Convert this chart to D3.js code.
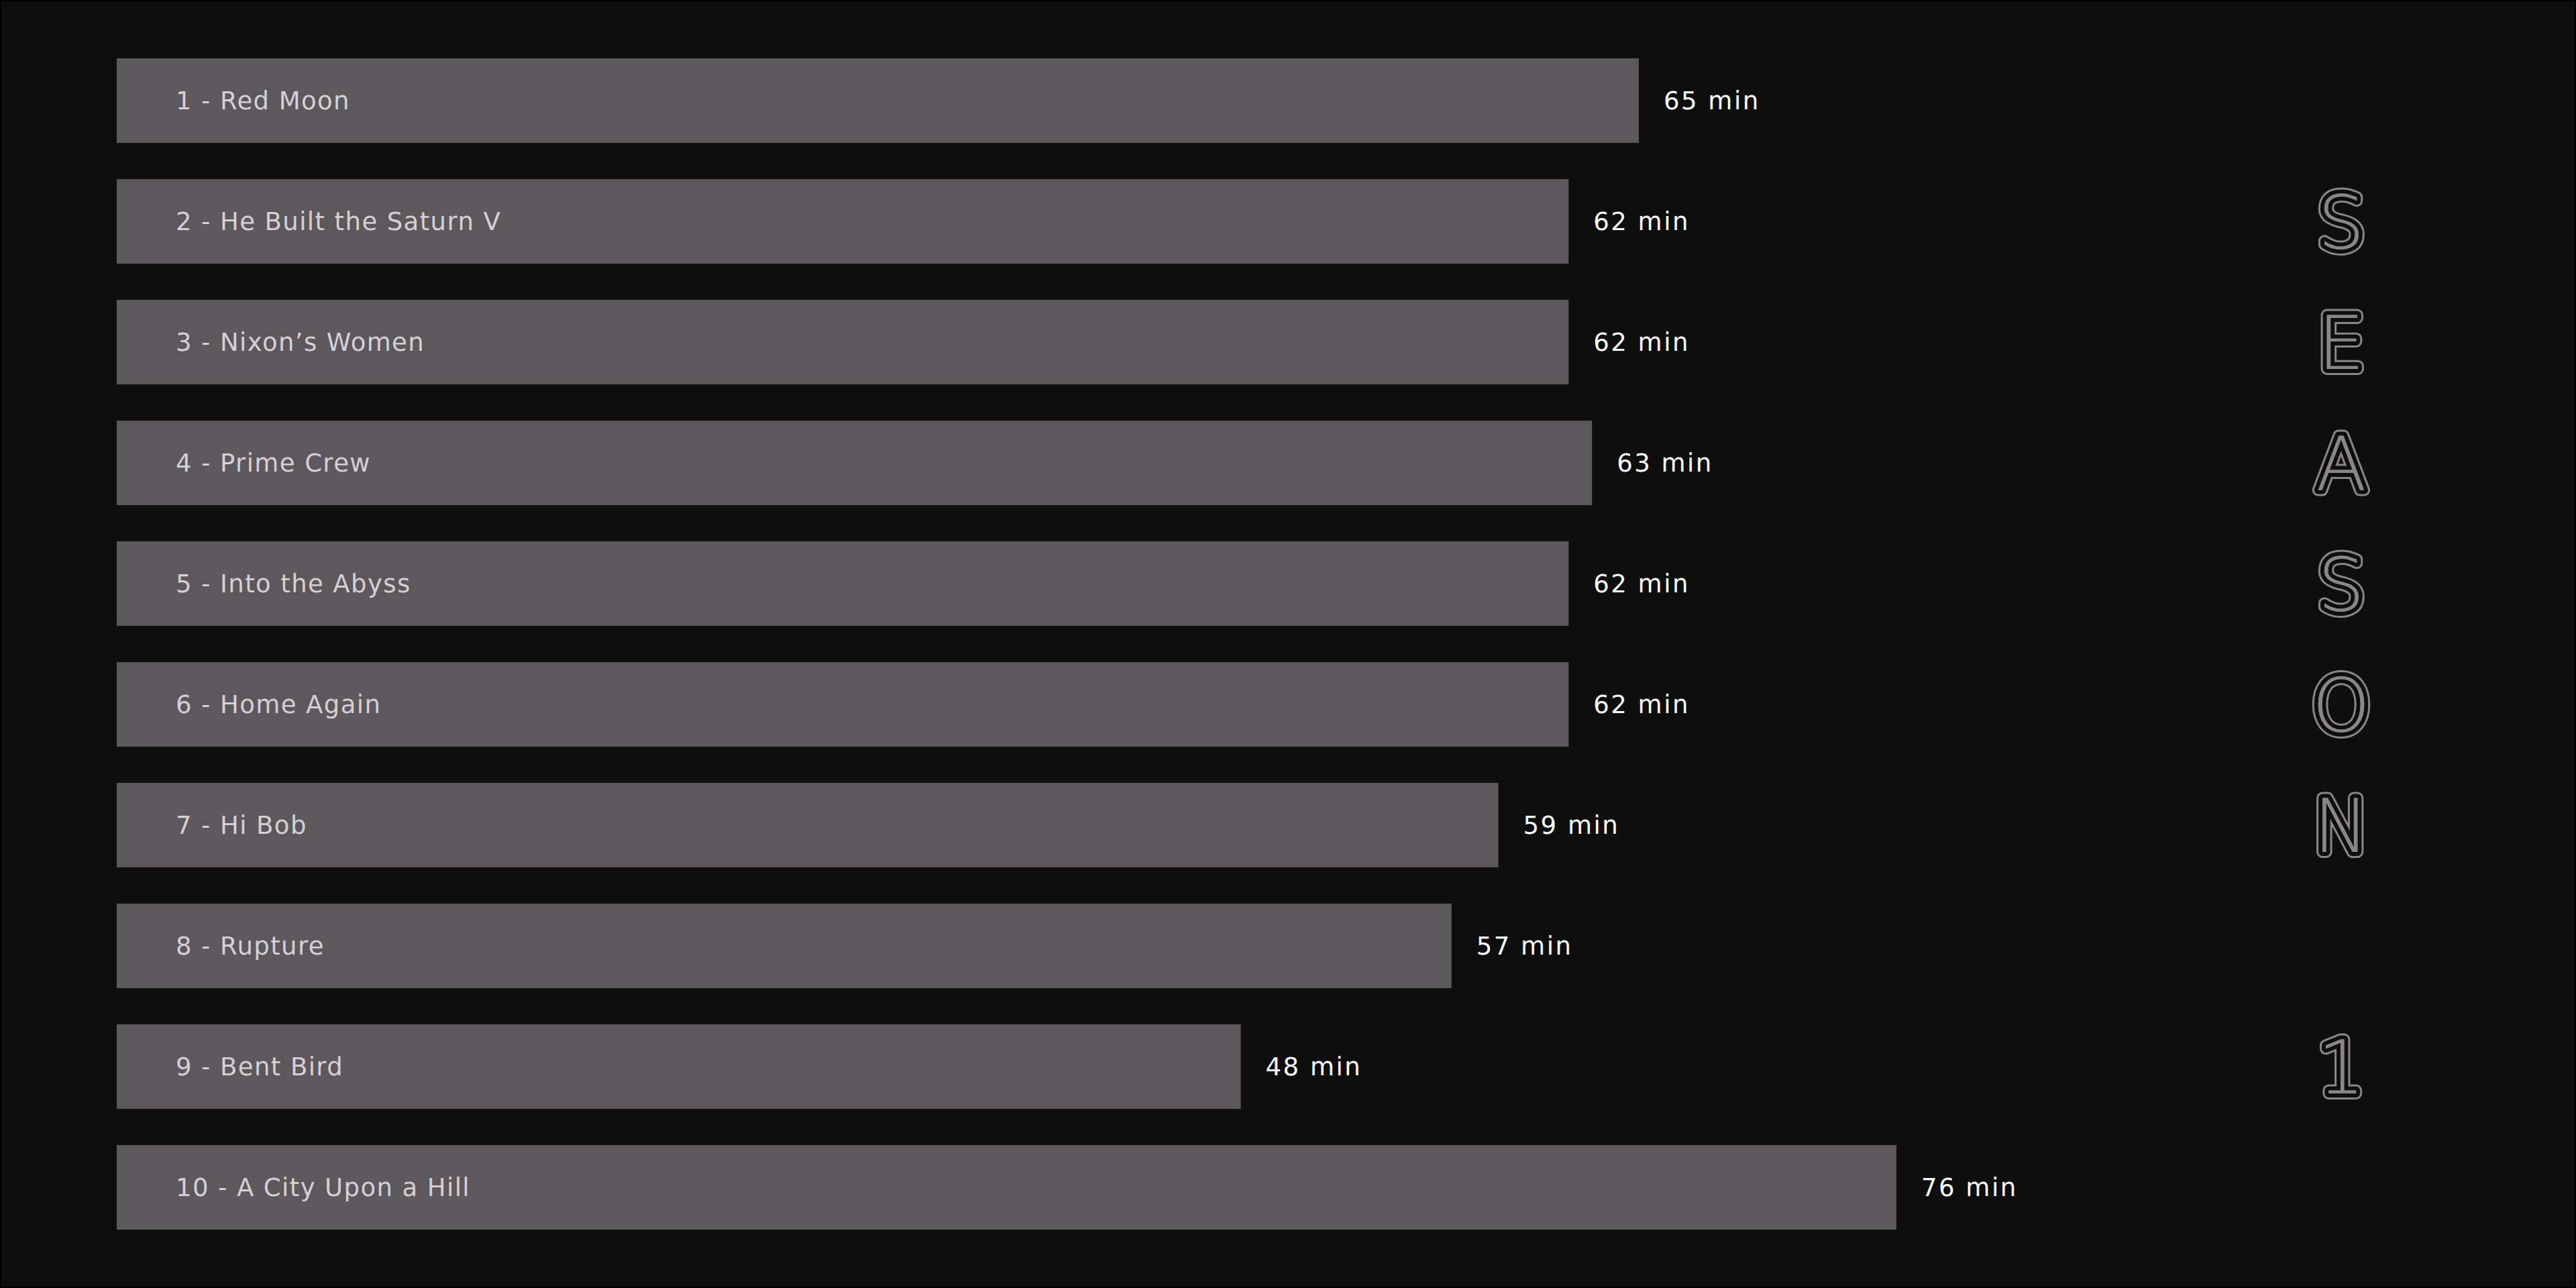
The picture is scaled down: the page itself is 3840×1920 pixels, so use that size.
<!DOCTYPE html>
<html>
<head>
<meta charset="utf-8">
<script src="https://cdn.jsdelivr.net/npm/d3@7"></script>
<style>
  html, body { margin: 0; padding: 0; background: #0e0e0e; }
  svg { display: block; }
</style>
</head>
<body>
<script>
// ---- data ----
const episodes = [
  "1 - Red Moon",
  "2 - He Built the Saturn V",
  "3 - Nixon's Women",
  "4 - Prime Crew",
  "5 - Into the Abyss",
  "6 - Home Again",
  "7 - Hi Bob",
  "8 - Rupture",
  "9 - Bent Bird",
  "10 - A City Upon a Hill"
];
const minutes = [65, 62, 62, 63, 62, 62, 59, 57, 48, 76];
const sideLetters = ["", "S", "E", "A", "S", "O", "N", "", "1", ""];

// ---- layout ----
const W = 3840, H = 1920;
const BG = "#0e0e0e", BAR = "#5c585c", LABEL = "#d6d0d6", VALUE = "#ffffff", LETTER = "#8a8588";

const svg = d3.select("body").append("svg")
  .attr("width", W).attr("height", H);

svg.append("rect").attr("x", 1).attr("y", 1).attr("width", W - 2).attr("height", H - 2)
  .attr("fill", BG).attr("stroke", "#000").attr("stroke-width", 2);

const data = episodes.map((e, i) => ({ name: e, min: minutes[i], letter: sideLetters[i] }));

const y = d3.scaleBand()
  .domain(episodes)
  .range([60, 1860])
  .paddingInner(0.3)
  .paddingOuter(0.15);

const x = d3.scaleLinear()
  .domain([0, d3.max(minutes)])
  .range([174, 2827]);

const rows = svg.append("g").selectAll("g").data(data).join("g");

rows.append("rect")
  .attr("x", x(0))
  .attr("y", d => y(d.name))
  .attr("width", d => x(d.min) - x(0))
  .attr("height", y.bandwidth())
  .attr("fill", BAR);

rows.append("text")
  .attr("x", x(0) + 88)
  .attr("y", d => y(d.name) + y.bandwidth() / 2 + 13)
  .attr("fill", LABEL)
  .style("font-family", "'DejaVu Sans', sans-serif")
  .style("font-size", "37px")
  .style("letter-spacing", "1.4px")
  .text(d => d.name.replace("'", "\u2019"));

rows.append("text")
  .attr("x", d => x(d.min) + 37)
  .attr("y", d => y(d.name) + y.bandwidth() / 2 + 13)
  .attr("fill", VALUE)
  .style("font-family", "'DejaVu Sans', sans-serif")
  .style("font-size", "37px")
  .style("letter-spacing", "2.5px")
  .text(d => d.min + " min");

// multi-line "SEASON 1" letters: layered strokes
const lettersData = data.filter(d => d.letter);
const lx = 3490;
const layers = [
  { sw: 18, col: LETTER },
  { sw: 12, col: BG },
  { sw: 0, col: LETTER }
];
const lg = svg.append("g");
layers.forEach(L => {
  lg.append("g").selectAll("text").data(lettersData).join("text")
    .attr("x", lx)
    .attr("y", d => y(d.name) + y.bandwidth() / 2 + 40)
    .attr("text-anchor", "middle")
    .attr("fill", LETTER)
    .attr("stroke", L.sw ? L.col : "none")
    .attr("stroke-width", L.sw)
    .attr("stroke-linejoin", "round")
    .style("font-family", "'DejaVu Sans', sans-serif")
    .style("font-weight", 200)
    .style("font-size", "110px")
    .style("paint-order", "stroke")
    .text(d => d.letter);
});
</script>
</body>
</html>
